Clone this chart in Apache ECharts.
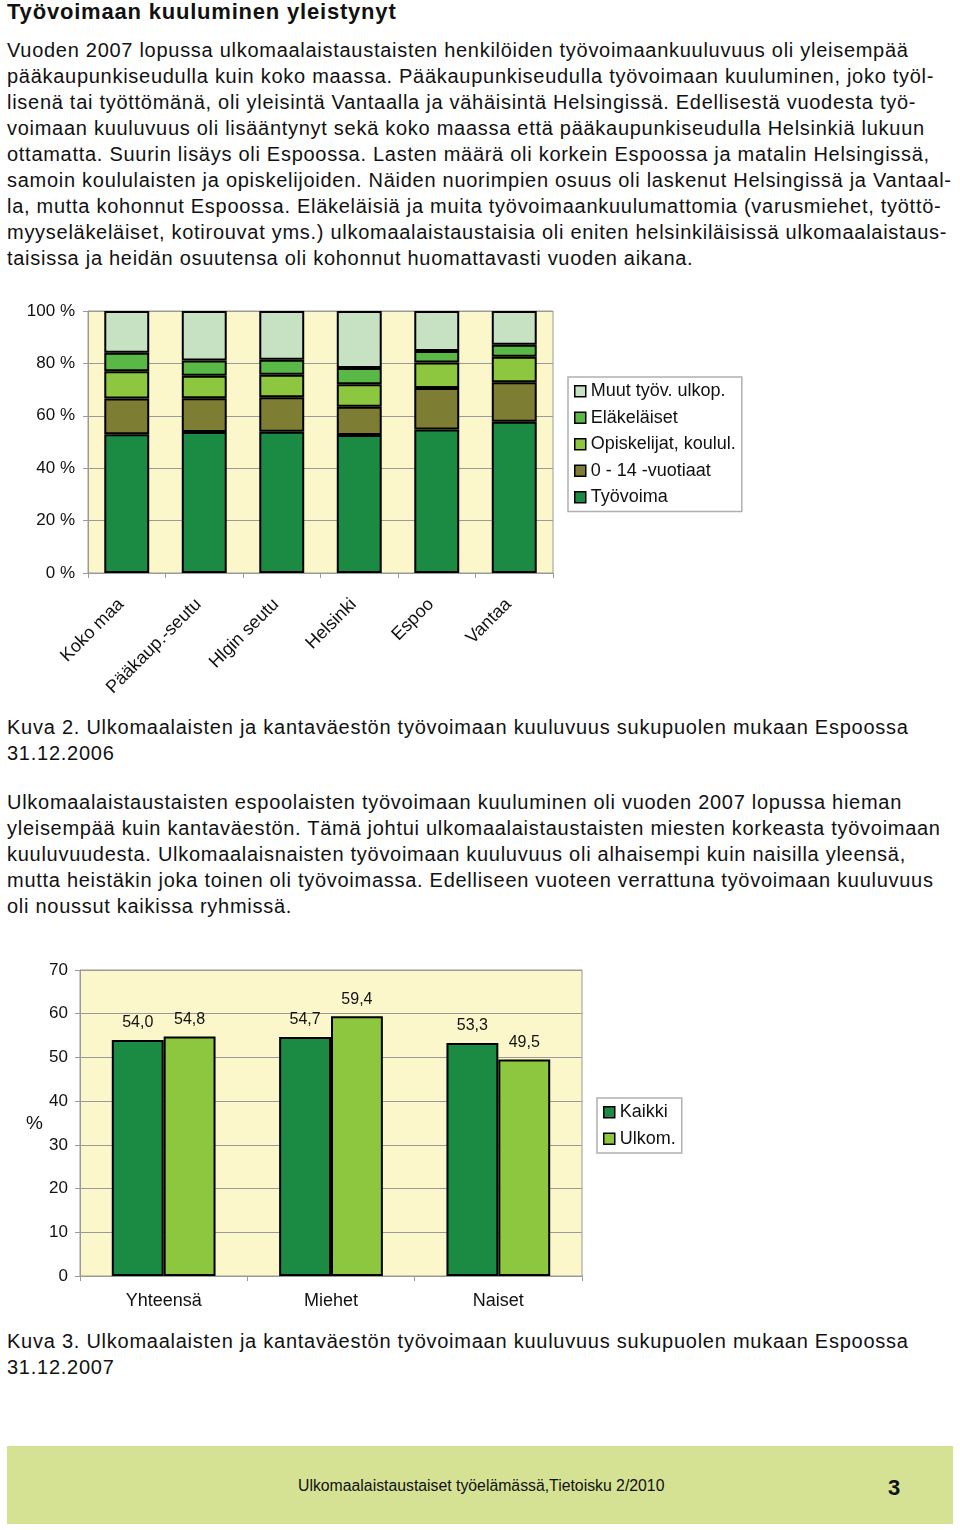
<!DOCTYPE html>
<html><head><meta charset="utf-8">
<script src="https://cdn.jsdelivr.net/npm/echarts@6/dist/echarts.min.js"></script>
<style>
html,body{margin:0;padding:0;background:#fff;width:960px;height:1530px;overflow:hidden;font-family:"Liberation Sans",Arial,sans-serif;color:#111;}
.t{position:absolute;left:7px;white-space:pre;line-height:26px;}
#title{top:-1px;font-size:22px;font-weight:bold;letter-spacing:0.8px;}
.p{font-size:20px;letter-spacing:0.72px;}
.cap{font-size:20px;letter-spacing:0.75px;}
#c1{position:absolute;left:0;top:290px;width:960px;height:410px;}
#c2{position:absolute;left:0;top:940px;width:960px;height:380px;}
#foot{position:absolute;left:7px;top:1446px;width:946px;height:78px;background:#d5e294;}
#foottxt{position:absolute;left:298px;top:1476px;font-size:15.8px;white-space:pre;line-height:20px;}
#pg{position:absolute;left:888px;top:1475px;font-size:22px;font-weight:bold;line-height:26px;}
</style></head><body>
<div id="title" class="t">Työvoimaan kuuluminen yleistynyt</div>
<div class="t p" style="top:37px">Vuoden 2007 lopussa ulkomaalaistaustaisten henkilöiden työvoimaankuuluvuus oli yleisempää
pääkaupunkiseudulla kuin koko maassa. Pääkaupunkiseudulla työvoimaan kuuluminen, joko työl-
lisenä tai työttömänä, oli yleisintä Vantaalla ja vähäisintä Helsingissä. Edellisestä vuodesta työ-
voimaan kuuluvuus oli lisääntynyt sekä koko maassa että pääkaupunkiseudulla Helsinkiä lukuun
ottamatta. Suurin lisäys oli Espoossa. Lasten määrä oli korkein Espoossa ja matalin Helsingissä,
samoin koululaisten ja opiskelijoiden. Näiden nuorimpien osuus oli laskenut Helsingissä ja Vantaal-
la, mutta kohonnut Espoossa. Eläkeläisiä ja muita työvoimaankuulumattomia (varusmiehet, työttö-
myyseläkeläiset, kotirouvat yms.) ulkomaalaistaustaisia oli eniten helsinkiläisissä ulkomaalaistaus-
taisissa ja heidän osuutensa oli kohonnut huomattavasti vuoden aikana.</div>
<div id="c1"></div>
<div class="t cap" style="top:714px">Kuva 2. Ulkomaalaisten ja kantaväestön työvoimaan kuuluvuus sukupuolen mukaan Espoossa
31.12.2006</div>
<div class="t p" style="top:789px">Ulkomaalaistaustaisten espoolaisten työvoimaan kuuluminen oli vuoden 2007 lopussa hieman
yleisempää kuin kantaväestön. Tämä johtui ulkomaalaistaustaisten miesten korkeasta työvoimaan
kuuluvuudesta. Ulkomaalaisnaisten työvoimaan kuuluvuus oli alhaisempi kuin naisilla yleensä,
mutta heistäkin joka toinen oli työvoimassa. Edelliseen vuoteen verrattuna työvoimaan kuuluvuus
oli noussut kaikissa ryhmissä.</div>
<div id="c2"></div>
<div class="t cap" style="top:1328px">Kuva 3. Ulkomaalaisten ja kantaväestön työvoimaan kuuluvuus sukupuolen mukaan Espoossa
31.12.2007</div>
<div id="foot"></div>
<div id="foottxt">Ulkomaalaistaustaiset työelämässä,Tietoisku 2/2010</div>
<div id="pg">3</div>
<script>
// Chart 1 data
const regions = ['Koko maa', 'Pääkaup.-seutu', 'Hlgin seutu', 'Helsinki', 'Espoo', 'Vantaa'];
const tyovoima = [53.0, 53.8, 53.9, 52.7, 54.8, 57.7];
const lapset = [13.6, 12.9, 13.2, 10.8, 15.8, 15.1];
const opiskelijat = [10.4, 8.6, 8.6, 8.5, 9.7, 9.7];
const elakelaiset = [7.1, 5.8, 5.7, 6.2, 4.4, 4.6];
const muut = [15.9, 18.9, 18.6, 21.8, 15.3, 12.9];
const pctTicks = [0, 20, 40, 60, 80, 100];

// Chart 2 data
const groups = ['Yhteensä', 'Miehet', 'Naiset'];
const kaikki = [54.0, 54.7, 53.3];
const ulkom = [54.8, 59.4, 49.5];

const FONT = '"Liberation Sans", Arial, sans-serif';
const plotBg = '#fbf7ca';
const gridCol = '#9a9a9a';

const c1 = echarts.init(document.getElementById('c1'));
function stackSeries(name, data, color) {
  return {
    name, type: 'bar', stack: 'a', data, barCategoryGap: '42%',
    itemStyle: { color, borderColor: '#000', borderWidth: 2 },
    emphasis: { disabled: true }
  };
}
c1.setOption({
  animation: false,
  textStyle: { fontFamily: FONT },
  grid: { left: 88, right: 407, top: 21, bottom: 127, show: true, backgroundColor: plotBg, borderColor: gridCol, borderWidth: 1 },
  xAxis: {
    type: 'category', data: regions,
    axisLine: { lineStyle: { color: gridCol } },
    axisTick: { show: true, alignWithLabel: false, length: 5, lineStyle: { color: gridCol } },
    axisLabel: { rotate: 45, margin: 23, padding: [0, 8, 0, 0], fontSize: 18, color: '#111', interval: 0 }
  },
  yAxis: {
    type: 'value', min: 0, max: 100, interval: 20,
    axisLine: { show: true, lineStyle: { color: gridCol } },
    axisTick: { show: true, length: 5, lineStyle: { color: gridCol } },
    splitLine: { lineStyle: { color: gridCol, width: 1 } },
    axisLabel: { formatter: v => pctTicks.includes(v) ? v + ' %' : '', fontSize: 17, color: '#111', margin: 13 }
  },
  legend: {
    orient: 'vertical', left: 568, top: 87,
    data: ['Muut työv. ulkop.', 'Eläkeläiset', 'Opiskelijat, koulul.', '0 - 14 -vuotiaat', 'Työvoima'],
    icon: 'rect', itemWidth: 11, itemHeight: 11, itemGap: 8, itemTextGap: 4,
    padding: [5, 6, 5, 6],
    borderColor: '#b0b0b0', borderWidth: 1.5, backgroundColor: '#fff',
    itemStyle: { borderColor: '#000', borderWidth: 1.5 },
    textStyle: { fontSize: 18, color: '#111', lineHeight: 18.5 },
    selectedMode: false
  },
  series: [
    stackSeries('Työvoima', tyovoima, '#1b8a43'),
    stackSeries('0 - 14 -vuotiaat', lapset, '#7e7d34'),
    stackSeries('Opiskelijat, koulul.', opiskelijat, '#8dc63f'),
    stackSeries('Eläkeläiset', elakelaiset, '#5ab946'),
    stackSeries('Muut työv. ulkop.', muut, '#c6e2c3')
  ]
});

const c2 = echarts.init(document.getElementById('c2'));
const lbl = { show: true, position: 'top', distance: 9, fontSize: 16, color: '#111', formatter: p => p.value.toFixed(1).replace('.', ',') };
c2.setOption({
  animation: false,
  textStyle: { fontFamily: FONT },
  grid: { left: 80, right: 378, top: 30, bottom: 44, show: true, backgroundColor: plotBg, borderColor: gridCol, borderWidth: 1 },
  xAxis: {
    type: 'category', data: groups,
    axisLine: { lineStyle: { color: gridCol } },
    axisTick: { show: true, alignWithLabel: false, length: 5, lineStyle: { color: gridCol } },
    axisLabel: { fontSize: 18, color: '#111', margin: 16 }
  },
  yAxis: {
    type: 'value', min: 0, max: 70, interval: 10,
    axisLine: { show: true, lineStyle: { color: gridCol } },
    axisTick: { show: true, length: 5, lineStyle: { color: gridCol } },
    splitLine: { lineStyle: { color: gridCol, width: 1 } },
    axisLabel: { fontSize: 17, color: '#111', margin: 12 }
  },
  graphic: [{ type: 'text', left: 26, top: 174, style: { text: '%', fontSize: 19, fontFamily: FONT, fill: '#111' } }],
  legend: {
    orient: 'vertical', left: 597, top: 158,
    data: ['Kaikki', 'Ulkom.'],
    icon: 'rect', itemWidth: 11, itemHeight: 11, itemGap: 8, itemTextGap: 4,
    padding: [5, 6, 5, 6],
    borderColor: '#b0b0b0', borderWidth: 1.5, backgroundColor: '#fff',
    itemStyle: { borderColor: '#000', borderWidth: 1.5 },
    textStyle: { fontSize: 18, color: '#111', lineHeight: 18.5 },
    selectedMode: false
  },
  series: [
    { name: 'Kaikki', type: 'bar', data: kaikki, barGap: '0%', barCategoryGap: '38%', label: lbl,
      itemStyle: { color: '#1b8a43', borderColor: '#000', borderWidth: 2 }, emphasis: { disabled: true } },
    { name: 'Ulkom.', type: 'bar', data: ulkom, barGap: '0%', barCategoryGap: '38%', label: lbl,
      itemStyle: { color: '#8dc63f', borderColor: '#000', borderWidth: 2 }, emphasis: { disabled: true } }
  ]
});
</script>
</body></html>
